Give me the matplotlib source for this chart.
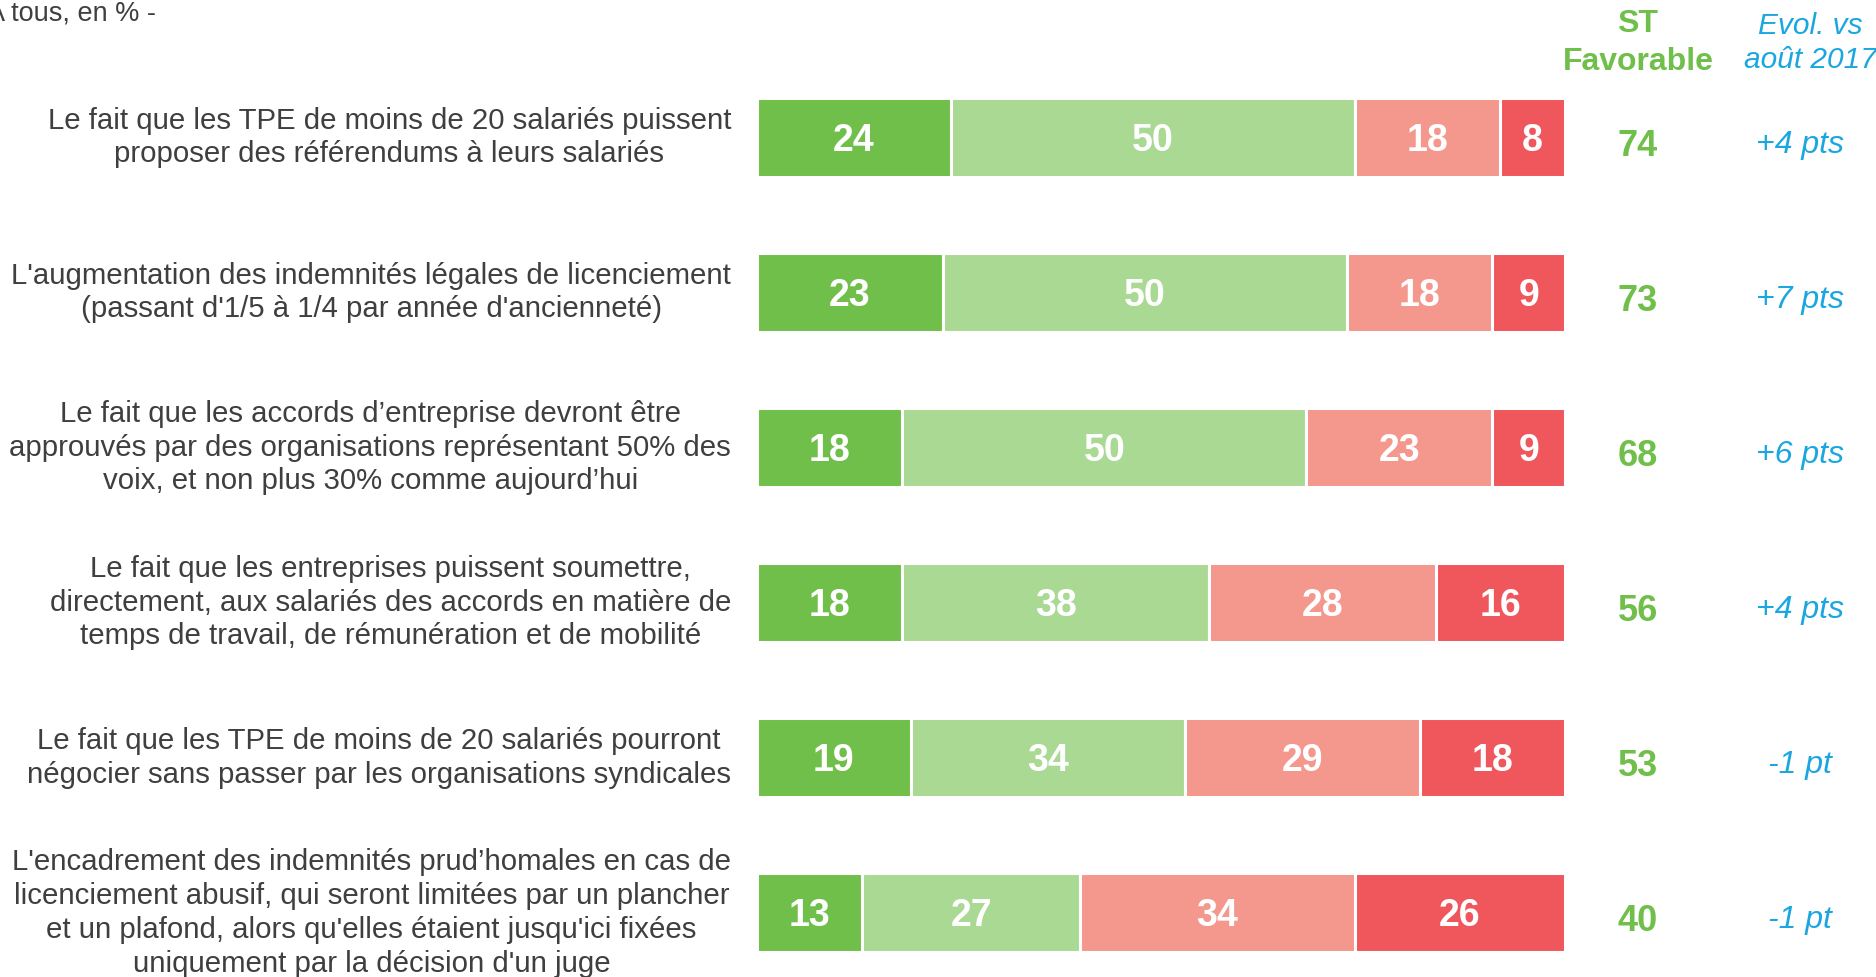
import matplotlib
matplotlib.use("Agg")
import matplotlib.pyplot as plt
from matplotlib.transforms import blended_transform_factory

labels = [
    "Le fait que les TPE de moins de 20 salariés puissent\nproposer des référendums à leurs salariés",
    "L'augmentation des indemnités légales de licenciement\n(passant d'1/5 à 1/4 par année d'ancienneté)",
    "Le fait que les accords d\u2019entreprise devront être\napprouvés par des organisations représentant 50% des\nvoix, et non plus 30% comme aujourd\u2019hui",
    "Le fait que les entreprises puissent soumettre,\ndirectement, aux salariés des accords en matière de\ntemps de travail, de rémunération et de mobilité",
    "Le fait que les TPE de moins de 20 salariés pourront\nnégocier sans passer par les organisations syndicales",
    "L'encadrement des indemnités prud\u2019homales en cas de\nlicenciement abusif, qui seront limitées par un plancher\net un plafond, alors qu'elles étaient jusqu'ici fixées\nuniquement par la décision d'un juge",
]
tres_favorable = [24, 23, 18, 18, 19, 13]
plutot_favorable = [50, 50, 50, 38, 34, 27]
plutot_oppose = [18, 18, 23, 28, 29, 34]
tres_oppose = [8, 9, 9, 16, 18, 26]
st_favorable = [74, 73, 68, 56, 53, 40]
evolution = ["+4 pts", "+7 pts", "+6 pts", "+4 pts", "-1 pt", "-1 pt"]

colors = ["#70BF4A", "#AAD994", "#F4978D", "#EF575D"]
text_col = "#3F3F3F"
green_txt = "#70BF4A"
blue_txt = "#1AA7E0"

W, H = 1876, 977
fig = plt.figure(figsize=(W / 100, H / 100), dpi=100)

x0, x1 = 757.0, 1565.0
top_px = 60.0
ax = fig.add_axes([x0 / W, 0, (x1 - x0) / W, 1 - top_px / H])
row0, step = 137.6, 155.0
ax.set_xlim(0, 100)
ax.set_ylim((H - row0) / step, -0.5)
ax.axis("off")

series = [tres_favorable, plutot_favorable, plutot_oppose, tres_oppose]
ypos = list(range(len(labels)))
left = [0] * len(labels)
for vals, c in zip(series, colors):
    ax.barh(ypos, vals, left=left, height=0.51, color=c,
            edgecolor="white", linewidth=2.2)
    for yi, (l, v) in enumerate(zip(left, vals)):
        ax.text(l + v / 2, yi + 0.02, str(v), ha="center", va="center",
                color="white", fontsize=27, fontweight="bold",
                family=["Liberation Sans Narrow", "Liberation Sans", "DejaVu Sans"])
    left = [l + v for l, v in zip(left, vals)]

trans = blended_transform_factory(fig.transFigure, ax.transData)
for yi, lab in zip(ypos, labels):
    fig.text(731 / W, yi, lab, transform=trans, ha="right", va="center",
             multialignment="center", fontsize=21.2, color=text_col,
             family="Liberation Sans", linespacing=1.27)

for yi, (s, e) in enumerate(zip(st_favorable, evolution)):
    fig.text(1638 / W, yi + 0.06, str(s), transform=trans, ha="center", va="center",
             fontsize=26, fontweight="bold", color=green_txt, family="Liberation Sans")
    fig.text(1800 / W, yi + 0.05, e, transform=trans, ha="center", va="center",
             fontsize=23, style="italic", color=blue_txt, family="Liberation Sans")

fig.text(1638 / W, 1 - 24.5 / H, "ST", ha="center", va="center", fontsize=23,
         fontweight="bold", color=green_txt, family="Liberation Sans")
fig.text(1638 / W, 1 - 61.5 / H, "Favorable", ha="center", va="center", fontsize=23,
         fontweight="bold", color=green_txt, family="Liberation Sans")
fig.text(1810 / W, 1 - 26 / H, "Evol. vs", ha="center", va="center", fontsize=21.5,
         style="italic", color=blue_txt, family="Liberation Sans")
fig.text(1810 / W, 1 - 60 / H, "août 2017", ha="center", va="center", fontsize=21.5,
         style="italic", color=blue_txt, family="Liberation Sans")

fig.text(-13 / W, 1 - 14 / H, "A tous, en % -", ha="left", va="center", fontsize=19.5,
         color=text_col, family="Liberation Sans")

fig.savefig("out.png", dpi=100)
